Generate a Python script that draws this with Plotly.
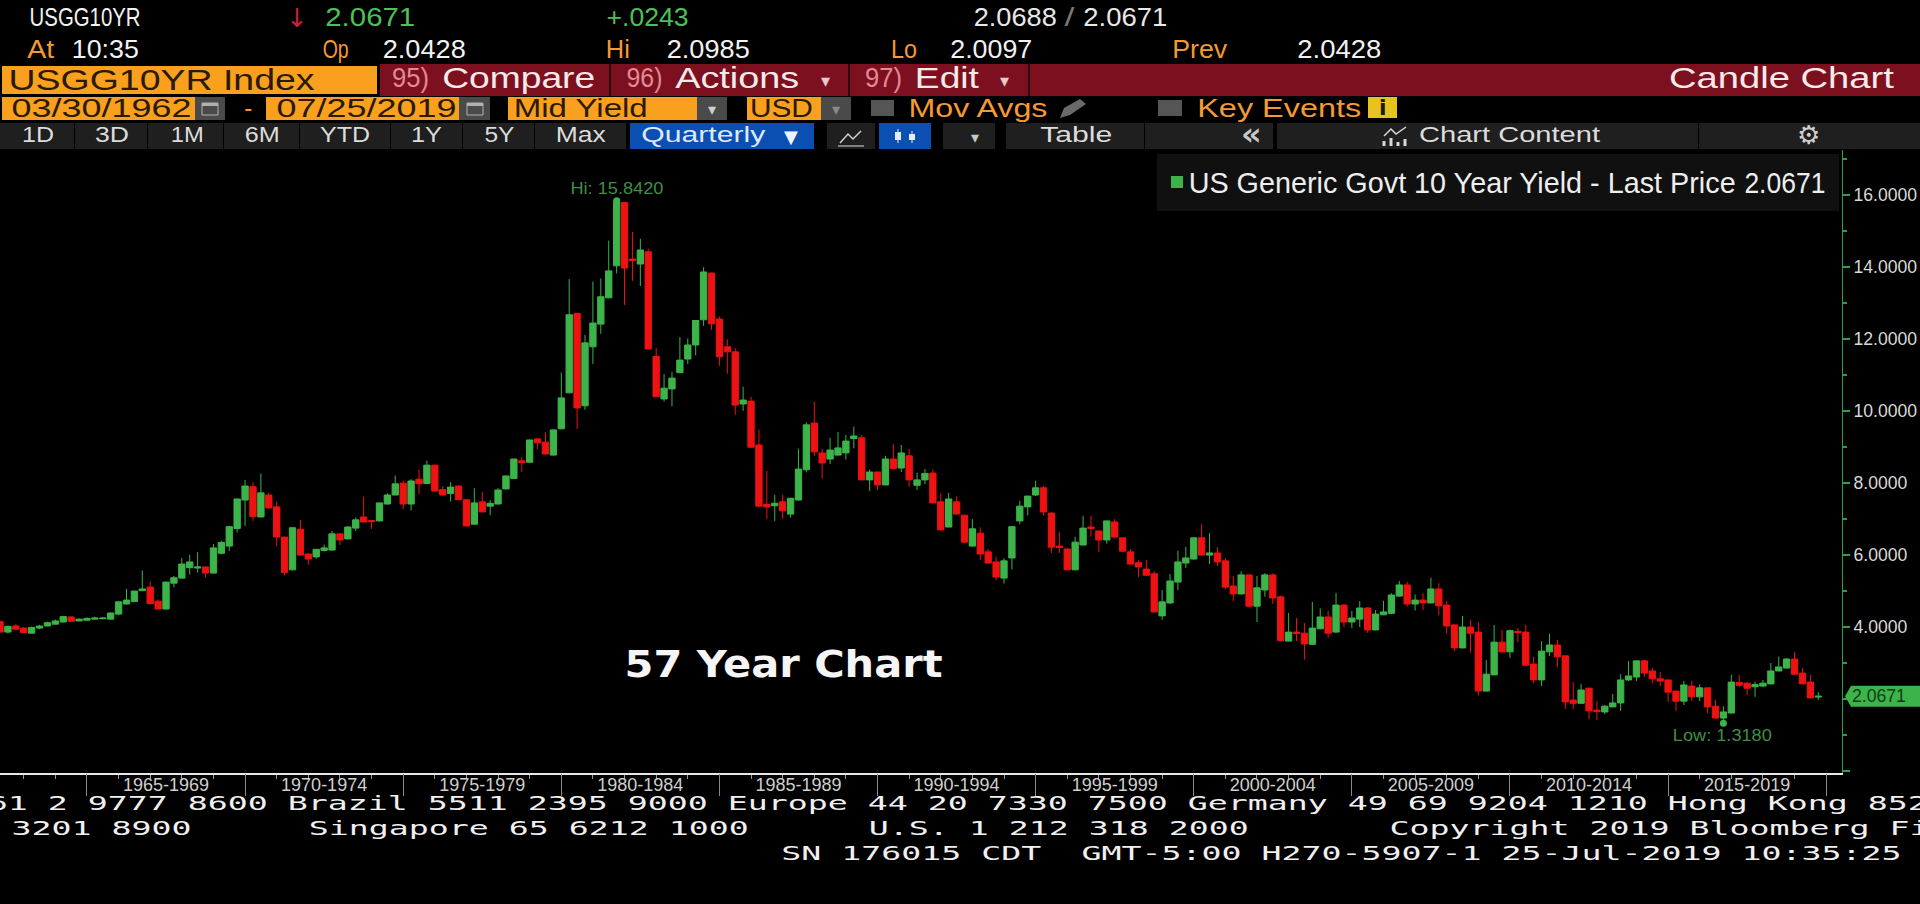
import json
import plotly.graph_objects as go

# ---------- chart data: quarterly US 10Y yield candles ----------
first_quarter = 1962.25
body_top = [
 4.14,4.01,4.02,3.96,3.98,4.02,4.11,4.16,4.28,4.27,
 4.21,4.23,4.24,4.24,4.38,4.69,4.74,4.99,5.05,5.10,
 4.71,5.24,5.36,5.74,5.80,5.66,5.66,6.19,6.34,6.78,
 7.55,7.91,7.89,7.72,7.66,7.33,6.49,6.75,6.71,6.02,
 6.15,6.19,6.58,6.58,6.77,6.97,7.05,6.95,7.44,7.66,
 7.97,7.99,8.05,8.10,8.49,8.49,7.81,7.88,7.91,7.53,
 7.44,7.47,7.43,7.80,8.19,8.66,8.61,9.19,9.22,9.13,
 9.47,10.36,12.67,12.71,11.89,12.44,13.17,13.89,15.80,15.79,
 14.22,14.47,14.42,11.51,10.63,10.91,11.41,11.83,12.51,13.86,
 13.83,12.55,11.78,11.64,10.30,10.27,9.05,7.40,7.43,7.47,
 7.57,8.38,9.61,9.66,8.83,8.91,8.97,9.16,9.30,9.25,
 8.30,8.30,8.66,8.66,8.83,8.75,8.08,8.26,8.27,7.47,
 7.55,7.47,7.10,6.72,6.60,6.08,5.80,5.83,6.78,7.35,
 7.63,7.86,7.86,7.16,6.24,6.16,6.35,6.74,6.77,6.66,
 6.94,6.91,6.47,6.08,5.78,5.60,5.47,4.69,5.27,5.80,
 5.91,6.47,6.47,6.05,6.05,5.83,5.13,5.44,5.44,5.08,
 5.44,5.44,4.83,3.85,3.85,3.82,3.96,4.27,4.27,4.60,
 4.60,4.24,4.52,4.52,4.35,4.41,4.88,5.16,5.16,4.74,
 4.74,5.05,5.05,4.60,4.05,3.99,3.99,3.85,2.68,3.57,
 3.57,3.89,3.87,3.85,2.96,3.32,3.49,3.49,3.19,1.96,
 2.24,2.29,1.68,1.79,1.88,2.52,2.63,3.05,3.05,2.77,
 2.55,2.52,2.21,2.38,2.35,2.30,2.30,1.79,1.63,2.46,
 2.45,2.43,2.39,2.43,2.77,2.88,3.10,3.10,2.71,2.46,
 2.0671]
body_bottom = [
 3.85,3.85,3.93,3.84,3.82,3.96,4.02,4.07,4.13,4.15,
 4.16,4.18,4.21,4.22,4.21,4.35,4.63,4.70,5.00,4.64,
 4.49,4.49,5.21,5.35,5.64,5.63,5.49,5.49,6.04,6.24,
 6.73,7.52,7.06,7.05,7.30,6.49,5.51,5.58,5.99,5.88,
 5.94,6.12,6.13,6.41,6.44,6.74,6.91,6.92,6.94,7.41,
 7.66,7.41,7.41,7.97,7.98,7.77,7.66,7.70,7.53,6.80,
 6.85,7.19,7.35,7.41,7.83,8.12,8.56,8.57,9.11,8.80,
 8.77,9.50,10.50,10.08,10.14,11.78,12.41,13.14,14.03,13.97,
 14.18,14.08,11.72,10.39,10.33,10.61,11.06,11.44,11.83,12.53,
 12.42,11.50,11.64,10.16,10.19,8.99,7.35,7.33,7.36,7.22,
 7.13,7.52,8.36,8.86,8.55,8.66,8.77,8.83,9.23,8.08,
 8.08,7.94,7.94,8.40,8.41,8.08,7.93,8.08,7.44,6.69,
 6.77,7.13,6.35,6.24,6.02,5.77,5.38,5.35,5.91,6.94,
 7.33,7.66,7.19,6.21,6.20,5.58,5.58,6.27,6.73,6.41,
 6.41,6.49,6.10,5.74,5.66,5.43,4.41,4.30,4.66,5.24,
 5.77,5.88,5.99,5.99,5.80,5.10,4.91,4.91,4.57,4.57,
 5.02,4.80,3.61,3.60,3.81,3.52,3.51,3.94,3.82,3.85,
 4.13,4.13,4.21,3.91,3.91,4.33,4.37,4.85,4.63,4.63,
 4.66,4.66,4.58,4.02,3.41,3.41,3.82,2.21,2.21,2.66,
 3.30,3.30,3.83,2.93,2.52,2.52,3.30,3.16,1.91,1.87,
 1.87,1.66,1.64,1.63,1.77,1.88,2.52,2.60,2.71,2.55,
 2.49,2.18,1.93,1.93,2.05,2.05,1.77,1.46,1.46,1.60,
 2.37,2.29,2.33,2.35,2.41,2.77,2.85,2.68,2.41,2.02,
 2.0428]
high = [
 4.17,4.03,4.07,3.99,4.00,4.05,4.14,4.20,4.30,4.28,
 4.23,4.26,4.28,4.26,4.39,4.70,5.05,5.00,5.56,5.26,
 4.76,5.25,5.41,5.91,6.00,6.07,5.67,6.30,6.39,6.80,
 7.56,8.08,8.01,8.26,7.72,7.48,6.50,6.77,6.97,6.03,
 6.16,6.28,6.66,6.59,6.79,7.03,7.61,6.95,7.45,7.71,
 8.20,8.06,8.10,8.37,8.61,8.50,7.91,8.02,7.92,7.54,
 7.85,7.75,7.52,7.85,8.20,8.67,8.71,9.20,9.24,9.40,
 9.48,11.06,13.66,12.72,12.11,13.59,13.68,14.73,15.842,15.80,
 14.97,14.78,14.51,11.75,11.02,11.08,12.05,12.01,12.52,13.99,
 13.84,12.62,11.99,11.74,10.67,10.39,9.47,8.33,7.66,7.66,
 7.58,8.95,9.68,10.26,8.94,9.25,9.41,9.33,9.56,9.33,
 8.37,8.31,8.75,9.08,9.05,8.94,8.28,8.38,8.37,7.71,
 7.72,7.62,7.11,6.99,6.76,6.16,5.94,5.90,6.79,7.50,
 7.64,8.06,7.91,7.17,6.63,6.17,6.50,7.08,7.08,6.67,
 6.95,6.99,6.48,6.16,5.85,5.85,5.54,5.02,5.46,6.11,
 6.22,6.48,6.85,6.60,6.21,5.91,5.41,5.54,5.45,5.41,
 5.49,5.48,4.86,4.38,4.24,4.10,4.69,4.51,4.44,4.94,
 4.63,4.44,4.71,4.54,4.46,4.72,4.93,5.27,5.25,4.89,
 4.93,5.36,5.21,4.72,4.06,4.30,4.19,4.13,3.07,4.05,
 3.91,3.92,3.96,4.05,3.16,3.60,3.80,3.63,3.20,2.46,
 2.41,2.30,1.93,1.82,2.13,2.68,3.05,3.06,3.08,2.85,
 2.74,2.53,2.22,2.49,2.49,2.40,2.31,1.96,1.79,2.66,
 2.66,2.46,2.47,2.52,2.99,3.17,3.13,3.30,2.85,2.66,
 2.18]
low = [
 3.85,3.81,3.92,3.81,3.81,3.93,4.01,4.06,4.12,4.14,
 4.15,4.17,4.20,4.21,4.20,4.32,4.62,4.69,4.99,4.62,
 4.48,4.48,5.09,5.34,5.45,5.50,5.37,5.48,6.01,6.10,
 6.62,6.80,6.94,7.04,7.29,6.24,5.42,5.57,5.98,5.72,
 5.89,6.09,6.12,6.27,6.43,6.66,6.90,6.72,6.93,7.40,
 7.65,7.26,7.23,7.69,7.97,7.76,7.65,7.48,7.52,6.79,
 6.84,7.18,7.10,7.40,7.82,8.11,8.31,8.56,8.93,8.79,
 8.76,9.49,10.49,9.49,10.03,11.30,12.14,13.13,13.82,12.94,
 13.61,13.47,11.71,10.38,10.26,10.13,11.05,11.30,11.54,12.36,
 12.25,11.25,11.03,9.89,10.00,8.98,7.34,7.00,6.94,7.00,
 7.03,7.51,8.29,8.75,8.12,8.52,8.76,8.65,8.96,8.07,
 7.77,7.80,7.93,8.39,8.30,7.89,7.80,7.96,7.43,6.68,
 6.76,7.12,6.34,6.23,5.86,5.76,5.29,5.20,5.59,6.85,
 7.09,7.63,7.09,6.05,6.05,5.57,5.57,6.26,6.50,6.08,
 6.31,6.45,6.06,5.73,5.38,5.42,4.40,4.19,4.63,5.02,
 5.63,5.87,5.98,5.74,5.69,5.04,4.71,4.90,4.55,4.13,
 4.83,4.63,3.60,3.59,3.60,3.09,3.50,3.93,3.69,3.84,
 3.99,3.96,3.99,3.83,3.90,4.32,4.36,4.84,4.56,4.45,
 4.46,4.65,4.32,3.81,3.32,3.40,3.28,2.09,2.20,2.65,
 3.29,3.13,3.57,2.92,2.43,2.35,3.18,2.88,1.71,1.71,
 1.85,1.43,1.40,1.57,1.76,1.66,2.49,2.49,2.60,2.43,
 2.35,1.91,1.66,1.82,1.93,1.93,1.60,1.45,1.318,1.59,
 2.32,2.10,2.05,2.32,2.40,2.76,2.84,2.67,2.40,2.01,
 1.96]
direction = ("RGRRGGGGGR" "GGGGGGGGGR" "RGGGGGRGGG" "GGRGRRRGRR" "GGGRGGRRGG" "GRGRGRRGRR"
             "GRGGGGRGRR" "GGGRGGGGGR" "RGRRGGGGGG" "RRRRGRRRGR" "GGGRRGGGGR" "GRGRGRGGRR"
             "GRRGRRRGGG" "GGRRRRGGRR" "GRRRRRRGGG" "GGRGRRRGRG" "GRRGRRGGRG" "RGGRGGGGRG"
             "RGRRRGRRGG" "RGRRRGGRRR" "GRRGGGGGRR" "RRRGRGRRGG" "RRGGGGGRRR" "G")
five_year_ticks = [1965, 1970, 1975, 1980, 1985, 1990, 1995, 2000, 2005, 2010, 2015, 2020]
period_labels = ["1965-1969", "1970-1974", "1975-1979", "1980-1984", "1985-1989", "1990-1994",
                 "1995-1999", "2000-2004", "2005-2009", "2010-2014", "2015-2019"]
yield_ticks = [0, 2, 4, 6, 8, 10, 12, 14, 16]
yield_tick_text = ["", "", "4.0000", "6.0000", "8.0000", "10.0000", "12.0000", "14.0000", "16.0000"]
hi_quarter, hi_value = 1981.75, 15.842
low_quarter, low_value = 2016.75, 1.318
last_price = 2.0671

assert len(body_top) == len(body_bottom) == len(high) == len(low) == len(direction) == 231

x = [first_quarter + i / 4 for i in range(len(body_top))]
open_ = [b if d == "G" else t for t, b, d in zip(body_top, body_bottom, direction)]
close = [t if d == "G" else b for t, b, d in zip(body_top, body_bottom, direction)]

# ---------- page geometry ----------
W, H = 1920, 904
PLOT_R, PLOT_T, PLOT_B = 1842, 150, 773
Y_RANGE = [-0.067, 17.25]
X_RANGE = [1962.25, 2020.5]
SANS = "Liberation Sans"
MONO = "DejaVu Sans Mono"
ORANGE, BOX_TXT, ORANGE_TXT = "#f9a01e", "#2b1a02", "#f39a34"
MAROON, PINK = "#7d101f", "#e28a94"
GREY_BTN, GREY_ICON = "#1f1f1f", "#4a4a4a"
BLUE = "#0b4fb3"
GREEN, RED = "#3cb44a", "#ee1212"
DIM_GREEN = "#3f8f45"


def val_y(v):
    return PLOT_B - (v - Y_RANGE[0]) / (Y_RANGE[1] - Y_RANGE[0]) * (PLOT_B - PLOT_T)


annotations, stretch, shapes = [], [], []


def text(s, x0, x1, yc, size, color, family=SANS, weight=400, fit=True):
    annotations.append(dict(text=s, x=(x0 + x1) / 2 / W, y=1 - yc / H, xref="paper", yref="paper",
                            xanchor="center", yanchor="middle", showarrow=False,
                            font=dict(family=family, size=size, color=color, weight=weight)))
    if fit:
        stretch.append([len(annotations) - 1, x1 - x0])


def rect(x0, y0, x1, y1, fill, line=None):
    shapes.append(dict(type="rect", xref="paper", yref="paper", x0=x0 / W, x1=x1 / W,
                       y0=1 - y0 / H, y1=1 - y1 / H, fillcolor=fill,
                       line=dict(width=1 if line else 0, color=line or fill)))


def path(points, fill=None, line=None, width=1.5, close_it=True):
    d = "M " + " L ".join(f"{px / W:.5f},{1 - py / H:.5f}" for px, py in points) + (" Z" if close_it else "")
    shapes.append(dict(type="path", xref="paper", yref="paper", path=d, fillcolor=fill or "rgba(0,0,0,0)",
                       line=dict(width=width if line else 0, color=line or "rgba(0,0,0,0)")))


# quote rows
text("USGG10YR", 29, 140, 17, 25, "#f2f2f2")
text("↓", 291, 303, 18, 26, "#c4213c", "DejaVu Sans", fit=False)
text("2.0671", 325, 415, 17, 25, "#4cc05a")
text("+.0243", 606, 688, 17, 25, "#4cc05a")
text("2.0688", 973, 1056, 17, 25, "#e8e8e8")
text("/", 1064, 1074, 17, 25, "#777777")
text("2.0671", 1083, 1167, 17, 25, "#e8e8e8")
for s, x0, x1, c in [("At", 27, 54, ORANGE_TXT), ("10:35", 72, 139, "#f2f2f2"), ("Op", 322, 348, ORANGE_TXT),
                     ("2.0428", 382, 465, "#f2f2f2"), ("Hi", 606, 630, ORANGE_TXT), ("2.0985", 666, 749, "#f2f2f2"),
                     ("Lo", 891, 917, ORANGE_TXT), ("2.0097", 950, 1032, "#f2f2f2"), ("Prev", 1172, 1227, ORANGE_TXT),
                     ("2.0428", 1297, 1381, "#f2f2f2")]:
    text(s, x0, x1, 49, 25, c)

# title bar
rect(380, 64, W, 96, MAROON)
rect(2, 66, 377, 94, ORANGE)
for sx in (609, 848, 1028):
    rect(sx, 64, sx + 2, 96, "#2a0a0e")
text("USGG10YR Index", 8, 314, 79, 30, BOX_TXT)
text("95)", 392, 429, 78, 27, PINK)
text("Compare", 442, 595, 78, 30, "#f5eaea")
text("96)", 626, 662, 78, 27, PINK)
text("Actions", 675, 799, 78, 30, "#f5eaea")
text("▾", 818, 832, 80, 18, "#e6c9cc", "DejaVu Sans", fit=False)
text("97)", 865, 902, 78, 27, PINK)
text("Edit", 915, 979, 78, 30, "#f5eaea")
text("▾", 997, 1011, 80, 18, "#e6c9cc", "DejaVu Sans", fit=False)
text("Candle Chart", 1669, 1894, 78, 30, "#f5eaea")

# date row
rect(2, 97, 195, 120, ORANGE)
rect(195, 97, 225, 120, GREY_ICON)
rect(266, 97, 459, 120, ORANGE)
rect(459, 97, 490, 120, GREY_ICON)
rect(508, 97, 697, 120, ORANGE)
rect(697, 97, 727, 120, GREY_ICON)
rect(747, 97, 821, 120, ORANGE)
rect(821, 97, 851, 120, GREY_ICON)
for cx in (210, 475):
    rect(cx - 8, 103, cx + 8, 115, "rgba(0,0,0,0)", "#b0b0b0")
    rect(cx - 8, 103, cx + 8, 106, "#b0b0b0")
rect(871, 100, 894, 116, "#555555")
rect(1158, 100, 1182, 116, "#555555")
rect(1368, 97, 1397, 118, "#e8c21f")
text("03/30/1962", 11, 191, 108, 25, BOX_TXT)
text("-", 244, 252, 108, 25, ORANGE_TXT)
text("07/25/2019", 276, 456, 108, 25, BOX_TXT)
text("Mid Yield", 513, 647, 108, 25, BOX_TXT)
text("▾", 705, 719, 109, 16, "#d0d0d0", "DejaVu Sans", fit=False)
text("USD", 750, 813, 108, 25, BOX_TXT)
text("▾", 829, 843, 109, 16, "#8a8a8a", "DejaVu Sans", fit=False)
text("Mov Avgs", 908, 1047, 108, 25, ORANGE_TXT)
path([(1060, 118), (1064, 108), (1080, 99), (1086, 104), (1070, 115)], fill="#6a6a6a")
text("Key Events", 1197, 1361, 108, 25, ORANGE_TXT)
text("i", 1376, 1389, 108, 22, "#1a1a1a", "DejaVu Sans", 700, fit=False)

# button row
for x0, x1 in [(0, 74), (75, 147), (148, 223), (224, 299), (300, 390), (391, 462), (463, 534), (535, 626),
               (827, 875), (943, 995), (1006, 1144), (1145, 1228), (1228, 1273), (1277, 1698), (1699, 1920)]:
    rect(x0, 123, x1, 149, GREY_BTN)
rect(630, 123, 814, 149, BLUE)
rect(879, 123, 931, 149, BLUE)
for s, x0, x1 in [("1D", 22, 54), ("3D", 95, 129), ("1M", 171, 204), ("6M", 245, 280), ("YTD", 320, 370),
                  ("1Y", 411, 442), ("5Y", 484, 514), ("Max", 556, 606), ("Table", 1040, 1112),
                  ("Chart Content", 1419, 1600)]:
    text(s, x0, x1, 135, 22, "#dcdcdc")
text("Quarterly", 641, 765, 135, 22, "#dfe8f6")
text("▼", 781, 801, 136, 18, "#eef3fb", "DejaVu Sans", fit=False)
path([(840, 143), (848, 134), (853, 139), (861, 131)], line="#d0d0d0", close_it=False)
path([(838, 146), (864, 146)], line="#a0a0a0", close_it=False)
for cx, y0, y1 in [(898, 129, 143), (912, 131, 143)]:
    rect(cx - 3, y0 + 3, cx + 3, y1 - 3, "#e6edf7")
    rect(cx - 0.5, y0, cx + 0.5, y1, "#e6edf7")
text("▾", 968, 982, 137, 16, "#c8c8c8", "DejaVu Sans", fit=False)
text("«", 1239, 1264, 134, 32, "#c8c8c8", "DejaVu Sans", 700, fit=False)
path([(1384, 136), (1391, 129), (1396, 134), (1406, 127)], line="#d8d8d8", close_it=False)
for bx, by in [(1384, 141), (1391, 138), (1398, 142), (1405, 139)]:
    rect(bx - 1.5, by, bx + 1.5, 146, "#d8d8d8")
text("⚙", 1795, 1821, 135, 26, "#cfcfcf", "DejaVu Sans", fit=False)

# legend panel
rect(1157, 154, 1839, 211, "#101010")
rect(1171, 176, 1183, 188, GREEN)
text("US Generic Govt 10 Year Yield - Last Price", 1188, 1735, 182, 30, "#eeeeee")
text("2.0671", 1744, 1825, 182, 30, "#eeeeee")

# chart notes
text("Hi: 15.8420", 570, 663, 188, 16, DIM_GREEN)
text("Low: 1.3180", 1673, 1772, 735, 17, DIM_GREEN)
text("57 Year Chart", 624, 942, 664, 38, "#f5f5f5", "DejaVu Sans", 700)

# last price tag
tag_y = val_y(last_price)
path([(1845, tag_y), (1851, tag_y - 10.5), (1920, tag_y - 10.5), (1920, tag_y + 10.5), (1851, tag_y + 10.5)], fill=GREEN)
text("2.0671", 1852, 1906, tag_y, 17.6, "#0f3d16")

# terminal footer
for s, x0, yc in [("61 2 9777 8600 Brazil 5511 2395 9000 Europe 44 20 7330 7500 Germany 49 69 9204 1210 Hong Kong 852", -12, 803),
                  ("3201 8900", 11, 828), ("Singapore 65 6212 1000", 309, 828), ("U.S. 1 212 318 2000", 868, 828),
                  ("Copyright 2019 Bloomberg Fi", 1389, 828), ("SN 176015 CDT", 781, 853),
                  ("GMT-5:00 H270-5907-1 25-Jul-2019 10:35:25", 1081, 853)]:
    text(s, x0, x0 + len(s) * 20, yc, 19, "#f0f0f0", MONO)

# ---------- figure ----------
fig = go.Figure()
fig.add_trace(go.Candlestick(
    x=x, open=open_, high=high, low=low, close=close, whiskerwidth=0, showlegend=False,
    name="US Generic Govt 10 Year Yield",
    increasing=dict(line=dict(color=GREEN, width=1), fillcolor=GREEN),
    decreasing=dict(line=dict(color=RED, width=1), fillcolor=RED)))
fig.add_trace(go.Scatter(x=[hi_quarter, low_quarter], y=[hi_value, low_value], mode="markers",
                         marker=dict(color=GREEN, size=7), showlegend=False))
fig.add_trace(go.Scatter(x=[X_RANGE[0]], y=[Y_RANGE[0]], mode="markers", marker=dict(opacity=0),
                         xaxis="x2", showlegend=False, hoverinfo="skip"))

x_domain = [0, PLOT_R / W]
fig.update_layout(
    width=W, height=H, margin=dict(l=0, r=0, t=0, b=0), autosize=False,
    paper_bgcolor="#000000", plot_bgcolor="#000000", boxgap=0.2, boxgroupgap=0, showlegend=False,
    annotations=annotations, shapes=shapes,
    xaxis=dict(domain=x_domain, range=X_RANGE, anchor="y", type="linear", rangeslider=dict(visible=False),
               showgrid=False, zeroline=False, showline=True, linecolor="#e8e8e8", linewidth=1.5,
               tickmode="array", tickvals=[(a + b) / 2 for a, b in zip(five_year_ticks[:-1], five_year_ticks[1:])],
               ticktext=period_labels, ticks="", ticklabelstandoff=-5,
               tickfont=dict(family=SANS, size=18, color="#cfcfcf"),
               minor=dict(tickmode="linear", tick0=1960, dtick=1, ticks="outside", ticklen=4,
                          tickcolor="#9a9a9a", showgrid=False)),
    xaxis2=dict(domain=x_domain, range=X_RANGE, anchor="y", overlaying="x", side="bottom", type="linear",
                showgrid=False, zeroline=False, showticklabels=False, tickmode="array",
                tickvals=five_year_ticks, ticks="outside", ticklen=22, tickcolor="#8a8a8a", tickwidth=1),
    yaxis=dict(domain=[1 - PLOT_B / H, 1 - PLOT_T / H], range=Y_RANGE, side="right", anchor="x",
               showgrid=False, zeroline=False, showline=True, linecolor="#2f9e44", linewidth=1,
               tickmode="array", tickvals=yield_ticks, ticktext=yield_tick_text, ticks="outside", ticklen=7,
               tickwidth=2, tickcolor="#2f9e44", tickfont=dict(family=SANS, size=17.6, color="#d8d8d8"),
               minor=dict(tickmode="linear", tick0=0, dtick=1, ticks="outside", ticklen=4,
                          tickcolor="#2f9e44", showgrid=False)),
)

post = """
var gd = document.getElementById('{plot_id}');
var fitList = %s;
function fitText() {
  fitList.forEach(function (p) {
    var t = gd.querySelector('.annotation[data-index="' + p[0] + '"] text');
    if (t) { t.setAttribute('textLength', p[1]); t.setAttribute('lengthAdjust', 'spacingAndGlyphs'); }
  });
}
document.body.style.margin = '0';
document.body.style.overflow = 'hidden';
document.body.style.background = '#000';
fitText(); setTimeout(fitText, 60); setTimeout(fitText, 400);
""" % json.dumps(stretch)

fig.write_html("out.html", config=dict(displayModeBar=False), post_script=post)
